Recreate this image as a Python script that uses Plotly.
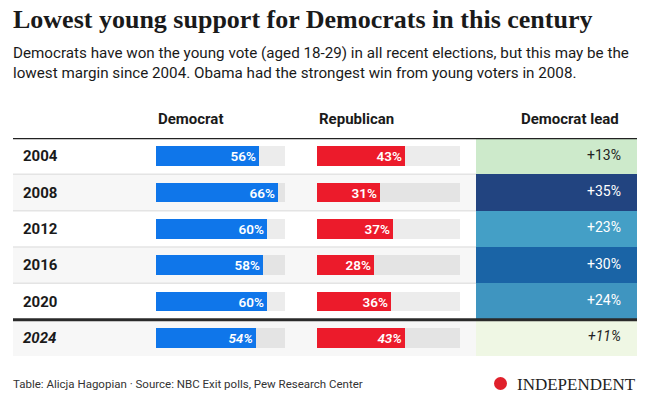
import plotly.graph_objects as go

years = ["2004", "2008", "2012", "2016", "2020", "2024"]
dem = [56, 66, 60, 58, 60, 54]
rep = [43, 31, 37, 28, 36, 43]
lead = [13, 35, 23, 30, 24, 11]
lead_colors = ["#cdeacb", "#224480", "#449fc6", "#1a64a6", "#3f95c0", "#eff7e4"]
lead_text_colors = ["#222222", "#ffffff", "#ffffff", "#ffffff", "#ffffff", "#222222"]
track_max = 70

W, H = 648, 398
FONT = "Roboto"


def px(x):
    return x / W


def py(y):
    return 1 - y / H


fig = go.Figure()

italic_last = lambda s, i: f"<i>{s}</i>" if i == len(years) - 1 else s

track_colors = ["#ececec" if i % 2 == 0 else "#e4e4e4" for i in range(len(years))]
bar_w = 0.55

# Democrat
fig.add_trace(go.Bar(y=years, x=[track_max] * len(years), orientation="h", width=bar_w,
                     marker=dict(color=track_colors, line_width=0), xaxis="x", yaxis="y",
                     hoverinfo="skip", showlegend=False))
fig.add_trace(go.Bar(y=years, x=dem, orientation="h", width=bar_w,
                     marker=dict(color="#0f76ea", line_width=0), xaxis="x", yaxis="y",
                     text=[italic_last(f"{v}%", i) for i, v in enumerate(dem)], textposition="inside",
                     insidetextanchor="end", textangle=0, constraintext="none",
                     textfont=dict(family=FONT, size=13.5, color="white", weight=600),
                     showlegend=False))
# Republican
fig.add_trace(go.Bar(y=years, x=[track_max] * len(years), orientation="h", width=bar_w,
                     marker=dict(color=track_colors, line_width=0), xaxis="x2", yaxis="y",
                     hoverinfo="skip", showlegend=False))
fig.add_trace(go.Bar(y=years, x=rep, orientation="h", width=bar_w,
                     marker=dict(color="#ec1b2b", line_width=0), xaxis="x2", yaxis="y",
                     text=[italic_last(f"{v}%", i) for i, v in enumerate(rep)], textposition="inside",
                     insidetextanchor="end", textangle=0, constraintext="none",
                     textfont=dict(family=FONT, size=13.5, color="white", weight=600),
                     showlegend=False))
# Lead column
fig.add_trace(go.Bar(y=years, x=[1] * len(years), orientation="h", width=1,
                     marker=dict(color=lead_colors, line_width=0), xaxis="x3", yaxis="y",
                     hoverinfo="skip", showlegend=False))
fig.add_trace(go.Scatter(y=years, x=[0.9] * len(years), mode="text", xaxis="x3", yaxis="y",
                         text=[italic_last(f"+{v}%", i) for i, v in enumerate(lead)],
                         textposition="middle left",
                         textfont=dict(family=FONT, size=14, color=lead_text_colors),
                         showlegend=False, hoverinfo="skip"))

shapes = []
# row backgrounds
for i in range(len(years)):
    if i % 2 == 1:
        shapes.append(dict(type="rect", xref="paper", yref="y", x0=px(13), x1=px(476),
                           y0=i - 0.5, y1=i + 0.5, fillcolor="#f7f7f7", line_width=0, layer="below"))
# separators
for i in range(len(years) - 2):
    shapes.append(dict(type="line", xref="paper", yref="y", x0=px(13), x1=px(476),
                       y0=i + 0.5, y1=i + 0.5, line=dict(color="#e4e4e4", width=1.5), layer="below"))
shapes.append(dict(type="line", xref="paper", yref="y", x0=px(13), x1=px(637),
                   y0=-0.5, y1=-0.5, line=dict(color="#222222", width=2.5)))
shapes.append(dict(type="line", xref="paper", yref="y", x0=px(13), x1=px(637),
                   y0=len(years) - 1.5, y1=len(years) - 1.5, line=dict(color="#2a2a2a", width=3)))
# logo circle
shapes.append(dict(type="circle", xref="paper", yref="paper", x0=px(494), x1=px(507),
                   y0=py(390), y1=py(377), fillcolor="#e0202b", line_width=0))

annotations = []
for i, yv in enumerate(years):
    annotations.append(dict(x=px(21), y=i, xref="paper", yref="y", text=italic_last(f"<b>{yv}</b>", i),
                            showarrow=False, xanchor="left", yanchor="middle",
                            font=dict(family=FONT, size=15, color="#1a1a1a")))
annotations += [
    dict(x=px(156), y=py(119), xref="paper", yref="paper", text="<b>Democrat</b>", showarrow=False,
         xanchor="left", yanchor="middle", font=dict(family=FONT, size=15, color="#1a1a1a")),
    dict(x=px(317), y=py(119), xref="paper", yref="paper", text="<b>Republican</b>", showarrow=False,
         xanchor="left", yanchor="middle", font=dict(family=FONT, size=15, color="#1a1a1a")),
    dict(x=px(621), y=py(119), xref="paper", yref="paper", text="<b>Democrat lead</b>", showarrow=False,
         xanchor="right", yanchor="middle", font=dict(family=FONT, size=15, color="#1a1a1a")),
    dict(x=px(11), y=py(19), xref="paper", yref="paper",
         text="<b>Lowest young support for Democrats in this century</b>", showarrow=False,
         xanchor="left", yanchor="middle", font=dict(family="Liberation Serif", size=26, color="#1a1a1a")),
    dict(x=px(11), y=py(63), xref="paper", yref="paper",
         text="Democrats have won the young vote (aged 18-29) in all recent elections, but this may be the<br>"
              "lowest margin since 2004. Obama had the strongest win from young voters in 2008.",
         showarrow=False, xanchor="left", yanchor="middle", align="left",
         font=dict(family=FONT, size=15.2, color="#1a1a1a")),
    dict(x=px(11), y=py(384), xref="paper", yref="paper",
         text="Table: Alicja Hagopian · Source: NBC Exit polls, Pew Research Center", showarrow=False,
         xanchor="left", yanchor="middle", font=dict(family=FONT, size=11.5, color="#333333")),
    dict(x=px(638), y=py(384), xref="paper", yref="paper", text="INDEPENDENT", showarrow=False,
         xanchor="right", yanchor="middle", font=dict(family="Liberation Serif", size=17, color="#222222")),
]

ax = dict(showgrid=False, zeroline=False, showticklabels=False, showline=False, fixedrange=True)
fig.update_layout(
    width=W, height=H, margin=dict(l=0, r=0, t=0, b=0),
    paper_bgcolor="white", plot_bgcolor="rgba(0,0,0,0)",
    barmode="overlay", bargap=0,
    xaxis=dict(domain=[px(156), px(285)], range=[0, track_max], **ax),
    xaxis2=dict(domain=[px(317), px(460)], range=[0, track_max], anchor="y", **ax),
    xaxis3=dict(domain=[px(476), px(637)], range=[0, 1], anchor="y", **ax),
    yaxis=dict(domain=[py(356), py(138)], type="category", categoryorder="array", categoryarray=years,
               range=[len(years) - 0.5, -0.5], **ax),
    shapes=shapes, annotations=annotations, showlegend=False,
)
fig.write_html("out.html", config={"displayModeBar": False},
               post_script="document.body.style.margin='0';document.body.style.overflow='hidden';")
